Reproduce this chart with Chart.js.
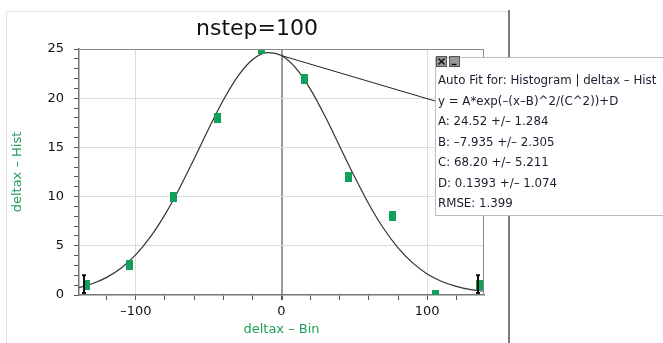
<!DOCTYPE html>
<html>
<head>
<meta charset="utf-8">
<script src="https://cdn.jsdelivr.net/npm/chart.js@4"></script>
<style>
  html, body { margin: 0; padding: 0; background: #fff; }
  #wrap { width: 663px; height: 343px; position: relative; }
</style>
</head>
<body>
<div id="wrap"><canvas id="fitChart" width="663" height="343"></canvas></div>
<script>
// histogram bins (centres) and counts
const binX = [-134, -104, -74, -44, -14, 16, 46, 76, 106, 136];
const binY = [1, 3, 10, 18, 25, 22, 12, 8, 0, 1];
const binErr = [1, null, null, null, null, null, null, null, null, 1];

// fitted curve
const fitX = [-139, -130, -120, -110, -100, -90, -80, -70, -60, -50, -40, -30, -20, -10, 0, 10, 20, 30, 40, 50, 60, 70, 80, 90, 100, 110, 120, 130, 139];
const fitY = [0.75, 1.14, 1.79, 2.75, 4.10, 5.90, 8.17, 10.85, 13.83, 16.90, 19.79, 22.22, 23.91, 24.64, 24.33, 23.02, 20.87, 18.13, 15.10, 12.06, 9.23, 6.78, 4.79, 3.26, 2.14, 1.37, 0.87, 0.55, 0.38];

const fitLines = [
  'Auto Fit for: Histogram | deltax \u2013 Hist',
  'y = A*exp(\u2013(x\u2013B)^2/(C^2))+D',
  'A: 24.52 +/\u2013 1.284',
  'B: \u20137.935 +/\u2013 2.305',
  'C: 68.20 +/\u2013 5.211',
  'D: 0.1393 +/\u2013 1.074',
  'RMSE: 1.399'
];

const GREEN = '#1f9e5a';
const FONT = '"DejaVu Sans", Verdana, sans-serif';

// green bar marker
const marker = document.createElement('canvas');
marker.width = 7; marker.height = 10;
const mctx = marker.getContext('2d');
mctx.fillStyle = '#13a05c';
mctx.fillRect(0, 0, 7, 10);

const extras = {
  id: 'extras',
  beforeDraw(chart) {
    const ctx = chart.ctx;
    ctx.save();
    // panel frame
    ctx.strokeStyle = '#e2e2e2';
    ctx.lineWidth = 1;
    ctx.beginPath();
    ctx.moveTo(6.5, 343); ctx.lineTo(6.5, 11.5); ctx.lineTo(508, 11.5);
    ctx.stroke();
    // divider
    ctx.strokeStyle = '#7a7a7a';
    ctx.lineWidth = 2;
    ctx.beginPath();
    ctx.moveTo(509, 10); ctx.lineTo(509, 343);
    ctx.stroke();
    ctx.restore();
  },
  afterDatasetsDraw(chart) {
    const ctx = chart.ctx;
    const xs = chart.scales.x, ys = chart.scales.y;
    const a = chart.chartArea;
    ctx.save();
    // error bars
    ctx.strokeStyle = '#111';
    ctx.lineWidth = 2;
    binErr.forEach((e, i) => {
      if (e == null) return;
      const px = Math.round(xs.getPixelForValue(binX[i])) - 2;
      const top = ys.getPixelForValue(binY[i] + e);
      const bot = Math.min(ys.getPixelForValue(binY[i] - e), a.bottom - 2);
      ctx.beginPath();
      ctx.moveTo(px, top); ctx.lineTo(px, bot);
      ctx.moveTo(px - 2, top); ctx.lineTo(px + 2, top);
      ctx.moveTo(px - 2, bot); ctx.lineTo(px + 2, bot);
      ctx.stroke();
    });
    // plot frame (top / right)
    ctx.strokeStyle = '#8a8a8a';
    ctx.lineWidth = 1;
    ctx.beginPath();
    ctx.moveTo(a.left, a.top + 0.5); ctx.lineTo(a.right - 0.5, a.top + 0.5); ctx.lineTo(a.right - 0.5, a.bottom);
    ctx.stroke();
    ctx.restore();
  },
  afterDraw(chart) {
    const ctx = chart.ctx;
    const xs = chart.scales.x, ys = chart.scales.y;
    const a = chart.chartArea;
    ctx.save();
    // title
    ctx.fillStyle = '#111';
    ctx.font = '22px ' + FONT;
    ctx.textAlign = 'center';
    ctx.textBaseline = 'middle';
    ctx.fillText('nstep=100', 257, 29);
    // axis titles
    ctx.fillStyle = GREEN;
    ctx.font = '13px ' + FONT;
    ctx.fillText('deltax \u2013 Bin', (a.left + a.right) / 2, 330);
    ctx.translate(18, (a.top + a.bottom) / 2);
    ctx.rotate(-Math.PI / 2);
    ctx.fillText('deltax \u2013 Hist', 0, 0);
    ctx.setTransform(1, 0, 0, 1, 0, 0);

    // connector from curve to the fit box
    const bx = 435, by = 57, bw = 240, bh = 158;
    ctx.strokeStyle = '#222';
    ctx.lineWidth = 1;
    ctx.beginPath();
    ctx.moveTo(xs.getPixelForValue(fitX[14]), ys.getPixelForValue(fitY[14]));
    ctx.lineTo(bx, 101);
    ctx.stroke();

    // fit box
    ctx.fillStyle = '#fff';
    ctx.fillRect(bx, by, bw, bh);
    ctx.strokeStyle = '#bdbdbd';
    ctx.strokeRect(bx + 0.5, by + 0.5, bw, bh);
    // close / minimise buttons
    [436, 449].forEach(x0 => {
      ctx.fillStyle = '#9a9a9a';
      ctx.fillRect(x0, 56, 11, 11);
      ctx.strokeStyle = '#555';
      ctx.strokeRect(x0 + 0.5, 56.5, 10, 10);
    });
    ctx.strokeStyle = '#111';
    ctx.lineWidth = 1.5;
    ctx.beginPath();
    ctx.moveTo(438.5, 58.5); ctx.lineTo(444.5, 64.5);
    ctx.moveTo(444.5, 58.5); ctx.lineTo(438.5, 64.5);
    ctx.moveTo(451.5, 64.5); ctx.lineTo(456.5, 64.5);
    ctx.stroke();

    ctx.fillStyle = '#1c1c2e';
    ctx.font = '11.8px ' + FONT;
    ctx.textAlign = 'left';
    ctx.textBaseline = 'middle';
    fitLines.forEach((t, i) => ctx.fillText(t, 438, 81 + i * 20.5));
    ctx.restore();
  }
};

new Chart(document.getElementById('fitChart'), {
  type: 'scatter',
  data: {
    datasets: [
      {
        label: 'Hist',
        data: binX.map((x, i) => ({ x, y: binY[i] })),
        pointStyle: marker,
        pointRadius: 5,
        showLine: false,
        clip: 0
      },
      {
        label: 'Fit',
        data: fitX.map((x, i) => ({ x, y: fitY[i] })),
        showLine: true,
        borderColor: '#333',
        borderWidth: 1.2,
        pointRadius: 0,
        tension: 0.4,
        cubicInterpolationMode: 'monotone',
        clip: 0
      }
    ]
  },
  options: {
    responsive: false,
    animation: false,
    events: [],
    layout: { padding: { left: 0, right: 179, top: 49, bottom: 0 } },
    plugins: { legend: { display: false }, tooltip: { enabled: false }, title: { display: false } },
    scales: {
      x: {
        type: 'linear',
        min: -139, max: 139,
        afterFit(s) { s.height = 48; },
        ticks: {
          stepSize: 20,
          includeBounds: false,
          autoSkip: false,
          maxRotation: 0,
          padding: 4,
          color: '#111',
          font: { family: FONT, size: 13 },
          callback: v => (v % 100 === 0 ? (v < 0 ? '\u2013' + Math.abs(v) : String(v)) : '')
        },
        grid: {
          drawTicks: true,
          tickLength: 5,
          tickColor: '#555',
          color: c => (c.tick && c.tick.value === 0 ? '#9a9a9a' : (c.tick && c.tick.value % 100 === 0 ? '#dcdcdc' : 'rgba(0,0,0,0)')),
          lineWidth: c => (c.tick && c.tick.value === 0 ? 2 : 1)
        },
        border: { display: true, color: '#777', width: 1.5 }
      },
      y: {
        type: 'linear',
        min: 0, max: 25,
        afterFit(s) { s.width = 79; },
        ticks: {
          stepSize: 1,
          autoSkip: false,
          padding: 10,
          color: '#111',
          font: { family: FONT, size: 13 },
          callback: v => (v % 5 === 0 ? String(v) : '')
        },
        grid: {
          drawTicks: true,
          tickLength: 5,
          tickColor: '#555',
          color: c => (c.tick && c.tick.value % 5 === 0 && c.tick.value > 0 ? '#dcdcdc' : 'rgba(0,0,0,0)')
        },
        border: { display: true, color: '#777', width: 1.5 }
      }
    }
  },
  plugins: [extras]
});
</script>
</body>
</html>
